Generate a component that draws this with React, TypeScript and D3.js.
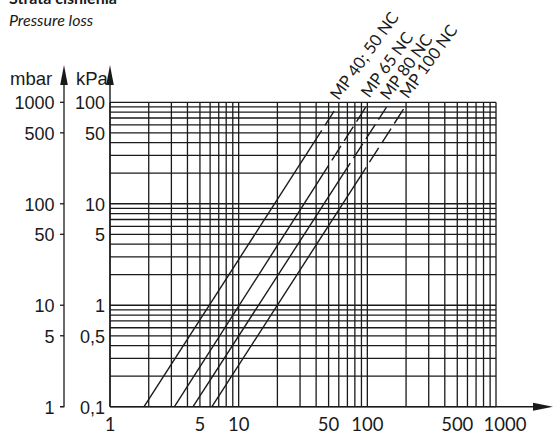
import React from "react";
import * as d3 from "d3";

const W = 554;
const H = 434;

// Axis ticks / labels
const xTickValues = [1, 5, 10, 50, 100, 500, 1000];
const xTickLabels = ["1", "5", "10", "50", "100", "500", "1000"];
const kPaTickValues = [0.1, 0.5, 1, 5, 10, 50, 100];
const kPaTickLabels = ["0,1", "0,5", "1", "5", "10", "50", "100"];
const mbarTickValues = [1, 5, 10, 50, 100, 500, 1000];
const mbarTickLabels = ["1", "5", "10", "50", "100", "500", "1000"];

// Series (flow on x, pressure loss in kPa on y)
const seriesNames = ["MP 40; 50 NC", "MP 65 NC", "MP 80 NC", "MP 100 NC"];
const flowStart = [1.84, 3.17, 4.42, 6.2];
const flowBreak = [44.2, 50, 73.6, 98];
const flowEnd = [57.7, 99.8, 141, 199.5];
const lossStart = [0.1, 0.1, 0.1, 0.1];
const lossBreak = [52.8, 23.9, 25.1, 22.9];
const lossEnd = [89.7, 94.6, 89.7, 93.2];

const INK = "#1a1a1a";
const NUM_FONT = "'Liberation Sans', Arial, sans-serif";
const LBL_FONT = "Lato, 'Open Sans', sans-serif";

export default function App() {
  const left = 110, right = 496, top = 102.3, bottom = 406.7;
  const x = d3.scaleLog().domain([1, 1000]).range([left, right]);
  const y = d3.scaleLog().domain([0.1, 100]).range([bottom, top]);
  const yMbar = d3.scaleLog().domain([1, 1000]).range([bottom, top]);

  const xGrid = x.ticks();
  const yGrid = y.ticks();

  const line = d3
    .line<[number, number]>()
    .x((d) => x(d[0]))
    .y((d) => y(d[1]));

  const mbarX = 64;
  const arrowTip = 65;
  const arrowBase = 85;

  return (
    <svg
      width={W}
      height={H}
      viewBox={`0 0 ${W} ${H}`}
      style={{ position: "absolute", left: 0, top: 0, background: "#fff" }}
    >
      <rect x={0} y={0} width={W} height={H} fill="#fff" />
      {/* titles */}
      <text x={9} y={4} fontFamily={LBL_FONT} fontWeight="bold" fontSize={16} fill={INK}>
        Strata ciśnienia
      </text>
      <text x={9} y={26} fontFamily={LBL_FONT} fontStyle="italic" fontSize={16} fill={INK}>
        Pressure loss
      </text>

      {/* grid */}
      <g stroke={INK} strokeWidth={1.3} fill="none">
        {xGrid.map((v, i) => (
          <line key={"vx" + i} x1={x(v)} x2={x(v)} y1={top} y2={bottom} />
        ))}
        {yGrid.map((v, i) => (
          <line key={"hy" + i} x1={left} x2={right} y1={y(v)} y2={y(v)} />
        ))}
      </g>

      {/* series */}
      <g stroke={INK} strokeWidth={1.4} fill="none">
        {seriesNames.map((name, i) => (
          <g key={name}>
            <path
              d={line([
                [flowStart[i], lossStart[i]],
                [flowBreak[i], lossBreak[i]],
              ]) as string}
            />
            <path
              d={line([
                [flowBreak[i], lossBreak[i]],
                [flowEnd[i], lossEnd[i]],
              ]) as string}
              strokeDasharray="17 6"
              strokeDashoffset={17}
            />
          </g>
        ))}
      </g>

      {/* series labels */}
      {seriesNames.map((name, i) => {
        const lx = x(flowEnd[i]) + 2;
        const ly = y(lossEnd[i]) - 6;
        return (
          <text
            key={"l" + name}
            x={lx}
            y={ly}
            transform={`rotate(-54 ${lx} ${ly})`}
            fontFamily={LBL_FONT}
            fontSize={16.5}
            fill={INK}
          >
            {name}
          </text>
        );
      })}

      {/* x axis */}
      <line x1={left} x2={534} y1={bottom} y2={bottom} stroke={INK} strokeWidth={1.4} />
      <path d={`M553,${bottom} L533,${bottom - 4} L533,${bottom + 4} Z`} fill={INK} />
      {xTickValues.map((v, i) => (
        <text
          key={"xt" + i}
          x={x(v) + (i === xTickValues.length - 1 ? 9 : 0)}
          y={431}
          textAnchor="middle"
          fontFamily={LBL_FONT}
          fontSize={18.5}
          fill={INK}
        >
          {xTickLabels[i]}
        </text>
      ))}

      {/* kPa axis */}
      <line x1={left} x2={left} y1={bottom} y2={arrowBase - 1} stroke={INK} strokeWidth={1.4} />
      <path
        d={`M${left},${arrowTip} L${left - 3.8},${arrowBase} L${left + 3.8},${arrowBase} Z`}
        fill={INK}
      />
      {kPaTickValues.map((v, i) => (
        <text
          key={"kt" + i}
          x={105}
          y={y(v) + 7}
          textAnchor="end"
          fontFamily={NUM_FONT}
          fontSize={18}
          fill={INK}
        >
          {kPaTickLabels[i]}
        </text>
      ))}
      <text x={76} y={84.5} fontFamily={NUM_FONT} fontSize={18.5} fill={INK}>
        kPa
      </text>

      {/* mbar axis */}
      <path
        d={`M${mbarX - 4},${bottom} H${mbarX} V${arrowBase - 1}`}
        stroke={INK}
        strokeWidth={1.3}
        fill="none"
      />
      <path
        d={`M${mbarX},${arrowTip} L${mbarX - 3.8},${arrowBase} L${mbarX + 3.8},${arrowBase} Z`}
        fill={INK}
      />
      {mbarTickValues.map((v, i) => (
        <g key={"mt" + i}>
          <line
            x1={mbarX - 4}
            x2={mbarX}
            y1={yMbar(v)}
            y2={yMbar(v)}
            stroke={INK}
            strokeWidth={1.3}
          />
          <text
            x={54.5}
            y={yMbar(v) + 7}
            textAnchor="end"
            fontFamily={NUM_FONT}
            fontSize={18}
            fill={INK}
          >
            {mbarTickLabels[i]}
          </text>
        </g>
      ))}
      <text x={10} y={84.5} fontFamily={NUM_FONT} fontSize={18.5} fill={INK}>
        mbar
      </text>
    </svg>
  );
}
